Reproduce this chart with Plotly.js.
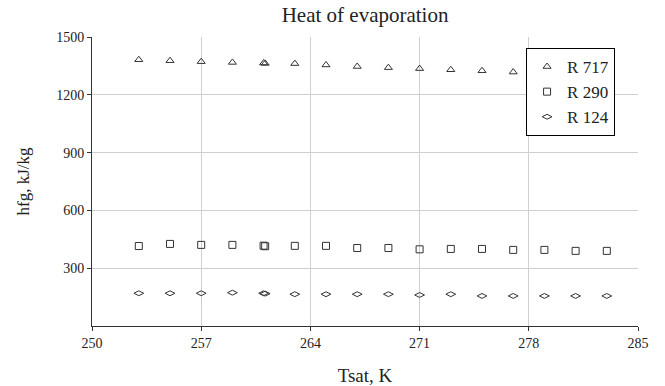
<!DOCTYPE html>
<html>
<head>
<meta charset="utf-8">
<script src="https://cdn.plot.ly/plotly-3.0.1.min.js"></script>
<style>html,body{margin:0;padding:0;background:#fff;}#chart{width:665px;height:386px;}</style>
</head>
<body>
<div id="chart"></div>
<script>
var tsat = [253, 255, 257, 259, 261, 261.1, 263, 265, 267, 269, 271, 273, 275, 277, 279, 281, 283];
var r717 = [1382, 1377, 1372, 1368, 1365, 1363, 1362, 1355, 1347, 1341, 1336, 1330, 1325, 1318, 1311, 1304, 1297];
var r290 = [415, 426, 421, 421, 417, 414, 416, 416, 405, 405, 398, 400, 400, 395, 395, 390, 390];
var r124 = [170, 170, 170, 173, 170, 168, 165, 165, 165, 165, 161, 165, 156, 156, 156, 156, 156];
var seriesNames = ["R 717", "R 290", "R 124"];
var xTicks = [250, 257, 264, 271, 278, 285];
var yTicks = [300, 600, 900, 1200, 1500];

var serif = "Liberation Serif, Times New Roman, serif";
var mk = function(sym, size){ return {symbol: sym, size: size, color: "#333", line: {color: "#333", width: 1}}; };
var traces = [
  {x: tsat, y: r717, name: seriesNames[0], type: "scatter", mode: "markers", marker: mk("triangle-up-open", 7)},
  {x: tsat, y: r290, name: seriesNames[1], type: "scatter", mode: "markers", marker: mk("square-open", 7)},
  {x: tsat, y: r124, name: seriesNames[2], type: "scatter", mode: "markers", marker: mk("diamond-wide-open", 7)}
];
var layout = {
  width: 665, height: 386,
  margin: {l: 92, r: 27, t: 37, b: 60},
  paper_bgcolor: "#fff", plot_bgcolor: "#fff",
  font: {family: serif, color: "#222", size: 14},
  title: {text: "Heat of evaporation", font: {family: serif, size: 21, color: "#222"}, x: 0.549, xanchor: "center", y: 0.961, yanchor: "middle"},
  xaxis: {
    range: [250, 285], tickvals: xTicks, ticktext: xTicks.map(String),
    showgrid: true, gridcolor: "#cfcfcf", gridwidth: 1,
    showline: true, linecolor: "#333", linewidth: 1,
    ticks: "outside", ticklen: 4, tickcolor: "#333",
    zeroline: false, mirror: false,
    tickfont: {family: serif, size: 14, color: "#222"},
    title: {text: "Tsat, K", font: {family: serif, size: 19, color: "#222"}, standoff: 20}
  },
  yaxis: {
    range: [0, 1500], tickvals: yTicks, ticktext: yTicks.map(String),
    showgrid: true, gridcolor: "#cfcfcf", gridwidth: 1,
    showline: true, linecolor: "#333", linewidth: 1,
    ticks: "outside", ticklen: 4, tickcolor: "#333",
    zeroline: false,
    tickfont: {family: serif, size: 14, color: "#222"},
    title: {text: "hfg, kJ/kg", font: {family: serif, size: 17, color: "#222"}, standoff: 22}
  },
  legend: {
    x: 0.795, y: 0.962, xanchor: "left", yanchor: "top",
    bgcolor: "#fff", bordercolor: "#000", borderwidth: 1,
    font: {family: serif, size: 17, color: "#222"},
    itemwidth: 30, tracegroupgap: 0,
    entrywidth: 100, entrywidthmode: "pixels"
  },
  showlegend: true
};
Plotly.newPlot("chart", traces, layout, {staticPlot: true});
</script>
</body>
</html>
